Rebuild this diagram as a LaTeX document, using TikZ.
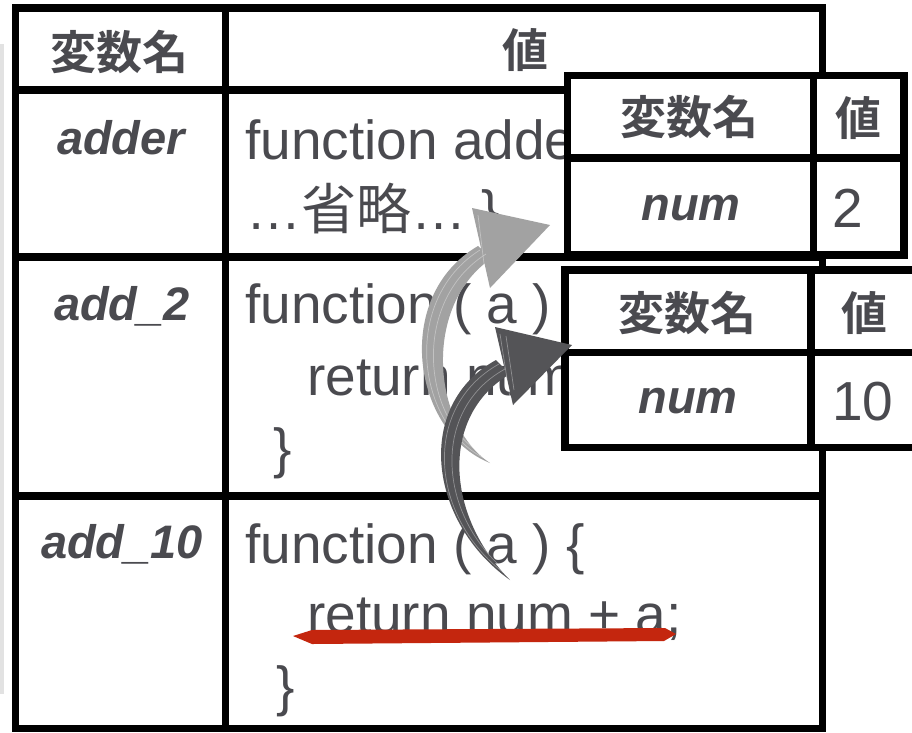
\documentclass[tikz,border=0pt]{standalone}
\usepackage{fontspec}
\setmainfont{Liberation Sans}
\newfontfamily\cjk{Noto Sans CJK JP}[BoldFont={Noto Sans CJK JP Bold}]
\definecolor{txt}{RGB}{74,74,79}
\definecolor{lightarrow}{RGB}{162,162,162}
\definecolor{darkarrow}{RGB}{84,84,87}
\definecolor{redline}{RGB}{196,38,14}
\definecolor{strip}{RGB}{226,226,226}
\begin{document}
\begin{tikzpicture}[x=1pt,y=-1pt,
  border/.style={line width=7.5pt, draw=black},
  hdr/.style={font=\cjk\bfseries\fontsize{46}{50}\selectfont, text=txt, inner sep=0pt, anchor=center},
  varname/.style={font=\bfseries\itshape\fontsize{47}{50}\selectfont, text=txt, inner sep=0pt, anchor=base},
  code/.style={font=\fontsize{55}{60}\selectfont, text=txt, inner sep=0pt, anchor=base west},
  smalltab/.style={border, fill=white},
  streak/.style={draw=white, opacity=0.35, line width=0.7pt}]
\useasboundingbox (0,0) rectangle (912,732);
\clip (0,0) rectangle (912,732);
\fill[white] (0,0) rectangle (912,732);
% left strip
\fill[strip] (0,44) rectangle (4,694);
% main table
\draw[border] (15.5,8) rectangle (822.5,728.5);
\draw[border] (225.5,8) -- (225.5,728.5);
\draw[border] (15.5,90) -- (822.5,90);
\draw[border] (15.5,257) -- (822.5,257);
\draw[border] (15.5,496) -- (822.5,496);
\node[hdr] (h1) at (119,52) {変数名};
\node[hdr] (h2) at (525,50) {値};
\node[varname] (n1) at (121,154) {adder};
\node[varname] (n2) at (122,320) {add\_2};
\node[varname] (n3) at (122,558) {add\_10};
\node[code] (c1a) at (245,159) {function adde};
\node[code] (c1b) at (246,229) {…{\cjk 省略}… \}};
\node[code] (c2a) at (245,323) {function ( a )};
\node[code] (c2b) at (307,395) {return num};
\node[code] (c2c) at (273,467) {\}};
\node[code] (c3a) at (245,563) {function ( a ) \{};
\node[code] (c3b) at (307,633) {return num + a;};
\node[code] (c3c) at (276,705) {\}};
% small table 1
\draw[smalltab] (567.5,75.5) rectangle (904,255);
\draw[border] (813.5,75.5) -- (813.5,255);
\draw[border] (567.5,158) -- (904,158);
\node[hdr] (t1h1) at (689,117) {変数名};
\node[hdr] (t1h2) at (858,118) {値};
\node[varname] (t1n) at (691,220) {num};
\node[code] (t1v) at (832,227) {2};
% small table 2
\draw[smalltab] (565,270) rectangle (930,447.5);
\draw[border] (811,270) -- (811,447.5);
\draw[border] (565,352.5) -- (930,352.5);
\node[hdr] (t2h1) at (687,313) {変数名};
\node[hdr] (t2h2) at (864,313) {値};
\node[varname] (t2n) at (688,413) {num};
\node[code] (t2v) at (832,420) {10};
% light arrow
\fill[lightarrow] (490,463) .. controls (412,432) and (392,296) .. (478,246) -- (492,258) .. controls (422,305) and (432,425) .. (490,463) -- cycle;
\fill[lightarrow] (472,208) -- (550,225) -- (490,288) -- cycle;
\draw[streak] (488,460) .. controls (416,428) and (400,300) .. (480,250);
\draw[streak] (486,456) .. controls (422,424) and (410,302) .. (486,254);
\draw[streak] (478,215) -- (486,280);
% dark arrow
\fill[darkarrow] (510,580) .. controls (428,522) and (414,405) .. (496,360) -- (510,374) .. controls (440,415) and (445,515) .. (510,580) -- cycle;
\fill[darkarrow] (495,327) -- (572,345) -- (513,405) -- cycle;
\draw[streak] (508,576) .. controls (430,520) and (420,408) .. (499,364);
\draw[streak] (507,572) .. controls (438,516) and (430,410) .. (505,369);
\draw[streak] (500,334) -- (510,398);
\draw[streak] (506,336) -- (514,390);
% red underline
\fill[redline] (293,636) -- (312,630) -- (665,628) -- (676,634) -- (664,641) -- (312,644) -- cycle;
\end{tikzpicture}
\end{document}
